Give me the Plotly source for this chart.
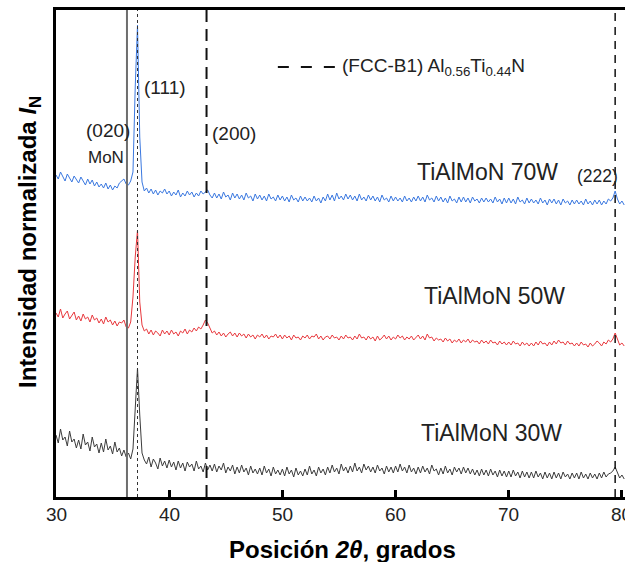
import numpy as np
import plotly.graph_objects as go

# 2-theta sampling grid (degrees)
two_theta = np.round(np.arange(30.0, 80.21, 0.2), 2)

# Normalised intensities (a.u., vertically offset) for each sputtering power
i_70w = [
    322, 318, 325, 320, 316, 323, 319, 315, 321, 317,
    314, 320, 316, 312, 318, 313, 317, 311, 315, 310,
    313, 309, 314, 308, 312, 307, 311, 309, 314, 316,
    318, 313, 312, 316, 325, 410, 472, 360, 315, 306,
    309, 304, 308, 303, 307, 302, 306, 304, 308, 303,
    306, 301, 305, 302, 307, 300, 304, 301, 306, 302,
    305, 300, 304, 301, 306, 303, 305, 307, 302, 299,
    304, 299, 303, 298, 305, 300, 302, 297, 304, 299,
    303, 298, 302, 297, 304, 299, 301, 296, 303, 298,
    302, 297, 301, 296, 303, 298, 300, 296, 302, 297,
    301, 296, 300, 295, 302, 297, 299, 295, 301, 296,
    300, 296, 299, 295, 301, 296, 299, 294, 300, 296,
    303, 297, 302, 296, 304, 298, 301, 297, 303, 298,
    302, 297, 301, 296, 303, 297, 300, 296, 302, 297,
    301, 296, 300, 295, 302, 297, 299, 295, 301, 296,
    300, 296, 299, 295, 301, 296, 299, 295, 300, 296,
    301, 296, 300, 295, 302, 297, 299, 295, 301, 296,
    300, 295, 299, 294, 301, 296, 298, 294, 300, 295,
    300, 295, 299, 294, 300, 296, 298, 294, 299, 295,
    299, 295, 298, 294, 300, 295, 298, 293, 299, 294,
    299, 294, 298, 293, 300, 295, 297, 293, 299, 294,
    298, 294, 297, 293, 299, 294, 297, 292, 298, 294,
    298, 293, 297, 292, 298, 294, 296, 292, 297, 293,
    297, 293, 296, 292, 298, 293, 296, 292, 297, 293,
    297, 292, 296, 293, 298, 296, 299, 306, 298, 293,
    296, 292,
]

i_50w = [
    184, 180, 188, 179, 183, 186, 178, 182, 185, 177,
    181, 176, 183, 178, 180, 175, 182, 177, 179, 174,
    178, 173, 180, 175, 177, 172, 176, 171, 175, 174,
    177, 170, 169, 175, 200, 240, 267, 195, 172, 166,
    168, 163, 167, 162, 166, 164, 161, 167, 163, 166,
    162, 167, 163, 165, 161, 166, 164, 168, 163, 167,
    165, 169, 166, 170, 168, 172, 177, 174, 168, 164,
    166, 162, 165, 161, 164, 160, 163, 165, 161, 164,
    160, 164, 161, 163, 159, 163, 160, 162, 158, 162,
    160, 163, 159, 162, 158, 161, 160, 163, 159, 162,
    158, 162, 159, 161, 157, 162, 159, 160, 157, 161,
    159, 162, 158, 161, 160, 163, 158, 161, 157, 160,
    161, 158, 162, 159, 160, 157, 161, 158, 162, 159,
    160, 157, 161, 158, 163, 159, 160, 157, 161, 158,
    160, 156, 161, 157, 159, 162, 158, 161, 157, 160,
    158, 162, 159, 161, 157, 160, 158, 161, 157, 159,
    162, 158, 161, 157, 163, 159, 160, 156, 159, 157,
    158, 155, 159, 156, 158, 154, 157, 155, 158, 154,
    157, 155, 158, 154, 157, 155, 156, 153, 157, 154,
    156, 153, 157, 154, 155, 152, 156, 153, 155, 152,
    155, 152, 156, 153, 154, 151, 155, 152, 154, 151,
    154, 151, 155, 152, 156, 153, 154, 151, 155, 152,
    156, 153, 157, 154, 155, 152, 156, 153, 154, 151,
    154, 151, 155, 152, 153, 150, 154, 151, 153, 156,
    154, 151, 155, 153, 157, 155, 158, 164, 157, 152,
    154, 151,
]

i_30w = [
    62, 54, 68, 57, 60, 51, 66, 55, 58, 49,
    57, 48, 63, 52, 55, 46, 60, 50, 53, 44,
    54, 45, 58, 47, 51, 43, 55, 45, 49, 41,
    47, 40, 44, 38, 48, 95, 129, 82, 44, 37,
    33, 40, 30, 38, 34, 28, 39, 31, 36, 29,
    37, 30, 35, 27, 36, 29, 34, 26, 35, 30,
    33, 26, 36, 28, 31, 25, 34, 27, 32, 26,
    33, 25, 31, 27, 34, 24, 30, 26, 32, 23,
    30, 24, 32, 25, 29, 22, 31, 24, 28, 23,
    29, 22, 31, 24, 28, 21, 30, 23, 27, 22,
    28, 21, 30, 23, 27, 20, 29, 22, 26, 21,
    28, 22, 31, 23, 27, 21, 30, 24, 28, 22,
    30, 24, 32, 25, 29, 23, 33, 26, 30, 24,
    31, 25, 34, 26, 30, 24, 33, 27, 31, 25,
    30, 24, 32, 26, 29, 23, 31, 25, 30, 24,
    31, 25, 33, 26, 30, 24, 32, 25, 29, 23,
    30, 24, 31, 25, 29, 23, 32, 26, 28, 22,
    29, 23, 31, 24, 28, 22, 30, 25, 29, 23,
    30, 24, 29, 23, 28, 22, 27, 21, 28, 22,
    27, 21, 28, 22, 26, 20, 27, 21, 26, 20,
    26, 20, 27, 21, 25, 19, 26, 20, 25, 19,
    25, 19, 26, 20, 24, 18, 25, 19, 24, 18,
    25, 19, 24, 18, 25, 20, 23, 18, 24, 19,
    24, 18, 25, 19, 23, 18, 24, 19, 23, 18,
    24, 19, 25, 20, 23, 24, 26, 30, 24, 19,
    22, 18,
]

series_names = ["TiAlMoN 70W", "TiAlMoN 50W", "TiAlMoN 30W"]
series_colors = ["#3a78e0", "#e8383d", "#3c3c3c"]

# Reference peak positions (2-theta, degrees)
mon_020 = 36.27
fcc_111 = 37.2
fcc_200 = 43.3
fcc_222 = 79.4

# x-axis ticks
tick_vals = [30, 40, 50, 60, 70, 80]

FONT = "Liberation Sans, Arial, sans-serif"
TXT = "#222222"

fig = go.Figure()
for name, ys, col in zip(series_names, [i_70w, i_50w, i_30w], series_colors):
    fig.add_trace(go.Scatter(x=two_theta, y=ys, mode="lines", name=name,
                             line=dict(color=col, width=1), showlegend=False))

shapes = [
    dict(type="line", xref="x", yref="paper", x0=mon_020, x1=mon_020, y0=0, y1=1,
         line=dict(color="#6e6e6e", width=2)),
    dict(type="line", xref="x", yref="paper", x0=fcc_111, x1=fcc_111, y0=0, y1=1,
         line=dict(color="#333333", width=1, dash="dot")),
    dict(type="line", xref="x", yref="paper", x0=fcc_200, x1=fcc_200, y0=0, y1=1,
         line=dict(color="#111111", width=2, dash="12px,7px")),
    dict(type="line", xref="x", yref="paper", x0=fcc_222, x1=fcc_222, y0=0, y1=1,
         line=dict(color="#111111", width=1.5, dash="8px,6px")),
    # key sample for the FCC-B1 reference lines
    dict(type="line", xref="x", yref="y", x0=49.6, x1=54.7, y0=430, y1=430,
         line=dict(color="#111111", width=2, dash="11px,12px")),
]

def note(text, x, y, size=16, xanchor="center"):
    return dict(text=text, x=x, y=y, xref="x", yref="y", showarrow=False,
                xanchor=xanchor, yanchor="middle",
                font=dict(family=FONT, size=size, color=TXT))

annotations = [
    note("(020)", 34.55, 367, 19),
    note("MoN", 34.45, 340, 17),
    note("(111)", 39.6, 410, 19),
    note("(200)", 43.6, 364, 19, xanchor="left"),
    note("TiAlMoN 70W", 74.55, 325, 23, xanchor="right"),
    note("(222)", 77.8, 321, 17.5),
    note("TiAlMoN 50W", 75.15, 201, 23, xanchor="right"),
    note("TiAlMoN 30W", 74.9, 64, 23, xanchor="right"),
    note("(FCC-B1) Al<sub>0.56</sub>Ti<sub>0.44</sub>N", 55.05, 430, 19, xanchor="left"),
    # axis titles
    dict(text="<b>Posición <i>2θ</i>, grados</b>", xref="paper", yref="paper",
         x=(342 - 56) / 569, y=-(549 - 497) / 487, showarrow=False,
         xanchor="center", yanchor="middle",
         font=dict(family=FONT, size=24, color="black")),
    dict(text="<b>Intensidad normalizada <i>I</i><sub>N</sub></b>", xref="paper", yref="paper",
         x=-(56 - 30) / 569, y=(497 - 242) / 487, showarrow=False, textangle=-90,
         xanchor="center", yanchor="middle",
         font=dict(family=FONT, size=24, color="black")),
]

# tick labels written as text under each tick so the last one may run off the page edge
for tv in tick_vals:
    annotations.append(dict(text=str(tv), x=tv, xref="x", yref="paper",
                            y=-(514 - 497) / 487, showarrow=False,
                            xanchor="center", yanchor="middle",
                            font=dict(family=FONT, size=19, color=TXT)))

fig.update_layout(
    width=625, height=562,
    margin=dict(l=56, r=0, t=10, b=65, autoexpand=False),
    paper_bgcolor="white", plot_bgcolor="white",
    shapes=shapes, annotations=annotations,
    font=dict(family=FONT, color=TXT),
    xaxis=dict(
        range=[30, 80.27], tickvals=tick_vals, showticklabels=False,
        ticks="inside", ticklen=7, tickwidth=3, tickcolor="black",
        showline=True, linewidth=3, linecolor="black", mirror=True,
        showgrid=False, zeroline=False, automargin=False,
    ),
    yaxis=dict(
        range=[0, 487], showticklabels=False, ticks="",
        showline=True, linewidth=3, linecolor="black",
        showgrid=False, zeroline=False, automargin=False,
    ),
)

fig.write_html("out.html")
